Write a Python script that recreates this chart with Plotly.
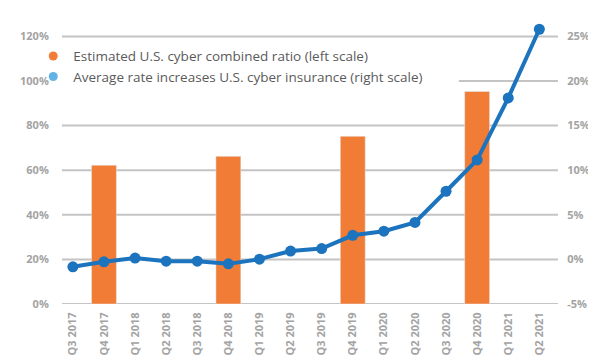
import plotly.graph_objects as go

quarters = ["Q3 2017", "Q4 2017", "Q1 2018", "Q2 2018", "Q3 2018", "Q4 2018",
            "Q1 2019", "Q2 2019", "Q3 2019", "Q4 2019", "Q1 2020", "Q2 2020",
            "Q3 2020", "Q4 2020", "Q1 2021", "Q2 2021"]
combined_ratio = [None, 62.2, None, None, None, 66.2, None, None, None, 75.2,
                  None, None, None, 95.3, None, None]
rate_increase = [-0.83, -0.27, 0.15, -0.2, -0.2, -0.5, 0.03, 0.93, 1.21, 2.7,
                 3.16, 4.14, 7.64, 11.15, 18.1, 25.8]
left_ticks = [0, 20, 40, 60, 80, 100, 120]
right_ticks = [-5, 0, 5, 10, 15, 20, 25]

name_bar = "Estimated U.S. cyber combined ratio (left scale)"
name_line = "Average rate increases U.S. cyber insurance (right scale)"

ORANGE = "#F07C36"
BLUE = "#1B74BD"
LEG_BLUE = "#62B2E6"
TICK = "#A3A3A3"
GRID = "#C4C4C4"

fig = go.Figure()
fig.add_trace(go.Bar(x=quarters, y=combined_ratio, marker_color=ORANGE,
                     width=0.8, showlegend=False, xaxis="x", yaxis="y"))
fig.add_trace(go.Scatter(x=quarters, y=rate_increase, mode="lines+markers",
                         line=dict(color=BLUE, width=4),
                         marker=dict(color=BLUE, size=11),
                         showlegend=False, xaxis="x", yaxis="y2"))
fig.add_trace(go.Scatter(x=[None], y=[None], mode="markers", name=name_bar,
                         marker=dict(color=ORANGE, size=9), xaxis="x", yaxis="y"))
fig.add_trace(go.Scatter(x=[None], y=[None], mode="markers", name=name_line,
                         marker=dict(color=LEG_BLUE, size=9), xaxis="x", yaxis="y"))

tickfont = dict(family="Open Sans", size=11, color=TICK, weight="bold")

# gridlines at the left-axis ticks; the 100% one only shows right of the legend
grid_shapes = [dict(type="line", xref="paper", yref="y",
                    x0=0.8 if v == 100 else 0, x1=1, y0=v, y1=v,
                    line=dict(color=GRID, width=2), layer="below")
               for v in left_ticks]

fig.update_layout(
    width=596, height=363,
    margin=dict(l=49, r=46, t=15, b=67),
    paper_bgcolor="white", plot_bgcolor="rgba(0,0,0,0)",
    bargap=0.2,
    xaxis=dict(type="category", categoryorder="array", categoryarray=quarters,
               range=[-0.35, 15.6], tickangle=-90, tickfont=tickfont,
               showgrid=False, showline=False, zeroline=False,
               ticks="outside", ticklen=3, tickcolor="rgba(0,0,0,0)"),
    yaxis=dict(range=[0, 126], tickvals=left_ticks,
               ticktext=[f"{v}%" for v in left_ticks], tickfont=tickfont,
               showgrid=False, zeroline=False, showline=False,
               ticks="outside", ticklen=10, tickcolor="rgba(0,0,0,0)"),
    yaxis2=dict(range=[-5, 26.5], tickvals=right_ticks,
                ticktext=[f"{v}%" for v in right_ticks], tickfont=tickfont,
                overlaying="y", side="right", showgrid=False, zeroline=False,
                showline=False, ticks="outside", ticklen=6, tickcolor="rgba(0,0,0,0)"),
    legend=dict(x=-0.058, y=0.937, xanchor="left", yanchor="top",
                bgcolor="rgba(0,0,0,0)", font=dict(family="Open Sans", size=13.5, color="#5A5A5A"),
                borderwidth=0, tracegroupgap=0),
    shapes=grid_shapes,
)

fig.write_html("out.html")
